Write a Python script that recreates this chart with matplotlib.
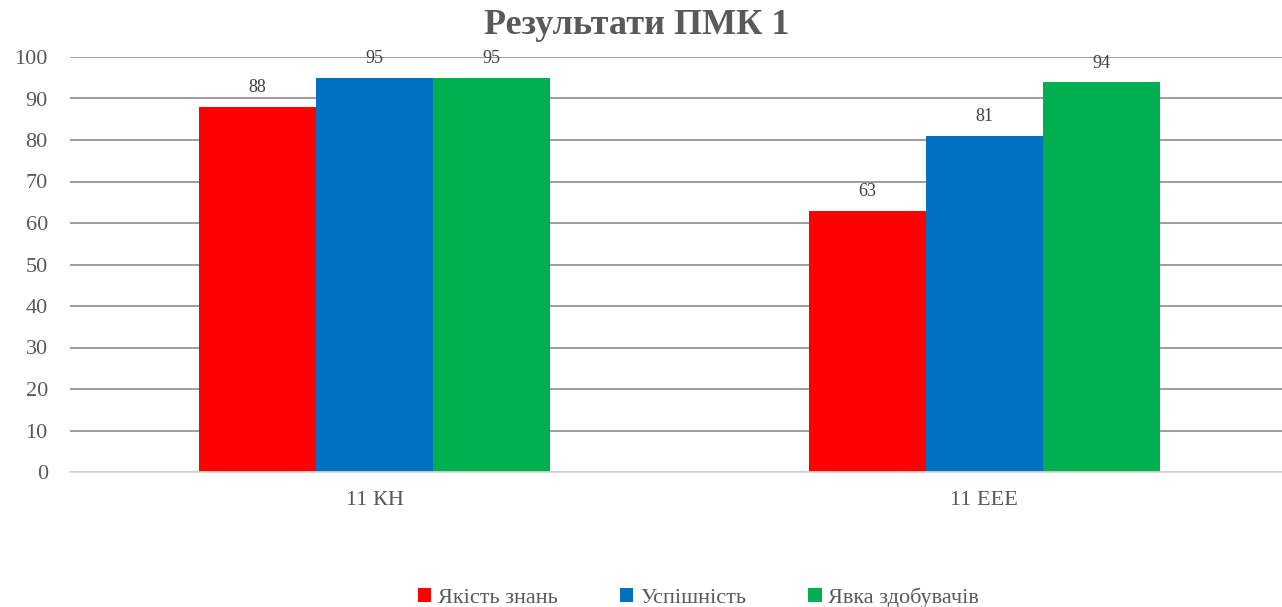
import matplotlib.pyplot as plt
import numpy as np

categories = ["11 КН", "11 ЕЕЕ"]
series_names = ["Якість знань", "Успішність", "Явка здобувачів"]
quality = [88, 63]
success = [95, 81]
attendance = [95, 94]
y_ticks = list(range(0, 101, 10))


def main():
    plt.rcParams['font.family'] = ['Liberation Serif', 'DejaVu Serif']
    fig = plt.figure(figsize=(12.82, 6.07), dpi=100)
    ax = fig.add_axes([70 / 1282, 1 - 472 / 607, 1219 / 1282, 415 / 607])

    colors = ["#ff0000", "#0070c0", "#00b050"]
    values = [quality, success, attendance]
    x = np.arange(len(categories))
    width = 0.192

    for i, (name, vals) in enumerate(zip(series_names, values)):
        pos = x + (i - 1) * width
        bars = ax.bar(pos, vals, width, color=colors[i], label=name, zorder=3)
        for b, v in zip(bars, vals):
            ax.text(b.get_x() + b.get_width() / 2, v + 2.5, str(v),
                    ha="center", va="bottom", fontsize=13, color="#404040")

    ax.set_xlim(-0.5, 1.5)
    ax.set_ylim(0, 100)
    ax.set_yticks(y_ticks)
    ax.set_xticks(x)
    ax.set_xticklabels(categories)
    ax.tick_params(axis="y", length=0, pad=16, labelsize=16, labelcolor="#595959")
    ax.tick_params(axis="x", length=0, pad=14, labelsize=16, labelcolor="#595959")
    ax.grid(axis="y", color="#8c8c8c", linewidth=1.2, zorder=0)
    for s in ["top", "right", "left"]:
        ax.spines[s].set_visible(False)
    ax.spines["bottom"].set_color("#d9d9d9")
    ax.spines["bottom"].set_linewidth(1.2)
    ax.spines["bottom"].set_zorder(4)

    fig.text(0.497, 1 - 25 / 607, "Результати ПМК 1", ha="center", va="center",
             fontsize=26, fontweight="bold", color="#595959")

    fig.legend(loc="center", bbox_to_anchor=(0.545, 1 - 598 / 607), ncol=3,
               frameon=False, fontsize=16, handlelength=0.6, handleheight=0.6,
               handletextpad=0.3, columnspacing=2.8, labelcolor="#595959")

    fig.savefig("out.png", dpi=100)


if __name__ == '__main__':
    main()
